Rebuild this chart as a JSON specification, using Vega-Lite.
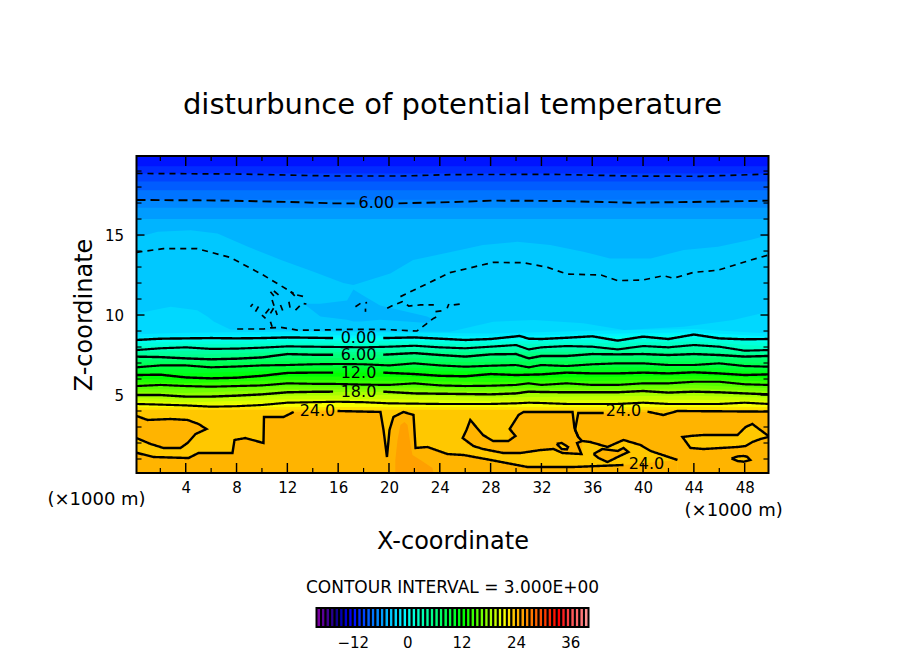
{
  "$schema": "https://vega.github.io/schema/vega-lite/v6.json",
  "background": "white",
  "padding": {"left": 46.5, "top": 91, "right": 0, "bottom": 0},
  "bounds": "flush",
  "center": true,
  "spacing": 135,
  "config": {
    "font": "DejaVu Sans",
    "view": {"stroke": null},
    "title": {"fontWeight": "normal", "color": "black"},
    "axis": {"labelColor": "black", "titleColor": "black", "titleFontWeight": "normal", "grid": false, "ticks": false, "domain": false, "labelFontSize": 15}
  },
  "datasets": {
    "bands": [
      {"level":23,"x":0.125,"z":0.125},{"level":23,"x":49.875,"z":0.125},
      {"level":22,"x":0.125,"z":4.08},{"level":22,"x":49.875,"z":4.08},
      {"level":21,"x":0.125,"z":4.25},{"level":21,"x":49.875,"z":4.25},
      {"level":20,"x":0.125,"z":4.44},{"level":20,"x":4,"z":4.35},{"level":20,"x":12,"z":4.52},{"level":20,"x":20,"z":4.48},{"level":20,"x":28,"z":4.44},{"level":20,"x":36,"z":4.44},{"level":20,"x":44,"z":4.44},{"level":20,"x":49.875,"z":4.44},
      {"level":19,"x":0.125,"z":4.63},{"level":19,"x":4,"z":4.53},{"level":19,"x":12,"z":4.74},{"level":19,"x":20,"z":4.74},{"level":19,"x":28,"z":4.64},{"level":19,"x":36,"z":4.69},{"level":19,"x":44,"z":4.7},{"level":19,"x":49.875,"z":4.64},
      {"level":18,"x":0.125,"z":4.81},{"level":18,"x":4,"z":4.72},{"level":18,"x":12,"z":4.95},{"level":18,"x":20,"z":5.0},{"level":18,"x":28,"z":4.84},{"level":18,"x":36,"z":4.93},{"level":18,"x":44,"z":4.95},{"level":18,"x":49.875,"z":4.84},
      {"level":17,"x":0.125,"z":5.0},{"level":17,"x":4,"z":4.9},{"level":17,"x":12,"z":5.17},{"level":17,"x":20,"z":5.21},{"level":17,"x":28,"z":5.04},{"level":17,"x":36,"z":5.17},{"level":17,"x":44,"z":5.21},{"level":17,"x":49.875,"z":5.04},
      {"level":16,"x":0.125,"z":5.19},{"level":16,"x":4,"z":5.12},{"level":16,"x":12,"z":5.36},{"level":16,"x":20,"z":5.35},{"level":16,"x":28,"z":5.22},{"level":16,"x":36,"z":5.32},{"level":16,"x":44,"z":5.42},{"level":16,"x":49.875,"z":5.24},
      {"level":15,"x":0.125,"z":5.37},{"level":15,"x":4,"z":5.34},{"level":15,"x":12,"z":5.54},{"level":15,"x":20,"z":5.49},{"level":15,"x":28,"z":5.4},{"level":15,"x":36,"z":5.48},{"level":15,"x":44,"z":5.62},{"level":15,"x":49.875,"z":5.43},
      {"level":14,"x":0.125,"z":5.56},{"level":14,"x":4,"z":5.56},{"level":14,"x":12,"z":5.73},{"level":14,"x":20,"z":5.63},{"level":14,"x":28,"z":5.58},{"level":14,"x":36,"z":5.63},{"level":14,"x":44,"z":5.83},{"level":14,"x":49.875,"z":5.63},
      {"level":13,"x":0.125,"z":5.79},{"level":13,"x":4,"z":5.74},{"level":13,"x":12,"z":5.95},{"level":13,"x":20,"z":5.89},{"level":13,"x":28,"z":5.82},{"level":13,"x":36,"z":5.87},{"level":13,"x":44,"z":6.02},{"level":13,"x":49.875,"z":5.85},
      {"level":12,"x":0.125,"z":6.02},{"level":12,"x":4,"z":5.92},{"level":12,"x":12,"z":6.16},{"level":12,"x":20,"z":6.14},{"level":12,"x":28,"z":6.07},{"level":12,"x":36,"z":6.11},{"level":12,"x":44,"z":6.22},{"level":12,"x":49.875,"z":6.07},
      {"level":11,"x":0.125,"z":6.25},{"level":11,"x":4,"z":6.1},{"level":11,"x":12,"z":6.38},{"level":11,"x":20,"z":6.4},{"level":11,"x":28,"z":6.31},{"level":11,"x":36,"z":6.35},{"level":11,"x":44,"z":6.42},{"level":11,"x":49.875,"z":6.29},
      {"level":10,"x":0.125,"z":6.41},{"level":10,"x":4,"z":6.35},{"level":10,"x":12,"z":6.55},{"level":10,"x":20,"z":6.55},{"level":10,"x":28,"z":6.48},{"level":10,"x":36,"z":6.54},{"level":10,"x":44,"z":6.57},{"level":10,"x":49.875,"z":6.45},
      {"level":9,"x":0.125,"z":6.57},{"level":9,"x":4,"z":6.6},{"level":9,"x":12,"z":6.71},{"level":9,"x":20,"z":6.7},{"level":9,"x":28,"z":6.65},{"level":9,"x":36,"z":6.73},{"level":9,"x":44,"z":6.72},{"level":9,"x":49.875,"z":6.6},
      {"level":8,"x":0.125,"z":6.73},{"level":8,"x":4,"z":6.85},{"level":8,"x":12,"z":6.88},{"level":8,"x":20,"z":6.85},{"level":8,"x":28,"z":6.83},{"level":8,"x":36,"z":6.92},{"level":8,"x":44,"z":6.88},{"level":8,"x":49.875,"z":6.77},
      {"level":7,"x":0.125,"z":6.95},{"level":7,"x":4,"z":7.0},{"level":7,"x":12,"z":7.11},{"level":7,"x":20,"z":7.07},{"level":7,"x":28,"z":7.06},{"level":7,"x":36,"z":7.13},{"level":7,"x":44,"z":7.1},{"level":7,"x":49.875,"z":7.0},
      {"level":6,"x":0.125,"z":7.18},{"level":6,"x":4,"z":7.14},{"level":6,"x":12,"z":7.33},{"level":6,"x":20,"z":7.3},{"level":6,"x":28,"z":7.3},{"level":6,"x":36,"z":7.35},{"level":6,"x":44,"z":7.33},{"level":6,"x":49.875,"z":7.22},
      {"level":5,"x":0.125,"z":7.4},{"level":5,"x":4,"z":7.29},{"level":5,"x":12,"z":7.56},{"level":5,"x":20,"z":7.52},{"level":5,"x":28,"z":7.54},{"level":5,"x":36,"z":7.56},{"level":5,"x":44,"z":7.56},{"level":5,"x":49.875,"z":7.44},
      {"level":4,"x":0.125,"z":7.54},{"level":4,"x":4,"z":7.52},{"level":4,"x":12,"z":7.71},{"level":4,"x":20,"z":7.69},{"level":4,"x":28,"z":7.71},{"level":4,"x":36,"z":7.71},{"level":4,"x":44,"z":7.71},{"level":4,"x":49.875,"z":7.56},
      {"level":3,"x":0.125,"z":7.67},{"level":3,"x":4,"z":7.75},{"level":3,"x":12,"z":7.87},{"level":3,"x":20,"z":7.85},{"level":3,"x":28,"z":7.85},{"level":3,"x":36,"z":7.87},{"level":3,"x":44,"z":7.97},{"level":3,"x":49.875,"z":7.67},
      {"level":2,"x":0.125,"z":7.81},{"level":2,"x":4,"z":7.98},{"level":2,"x":12,"z":8.04},{"level":2,"x":20,"z":8.02},{"level":2,"x":28,"z":8.02},{"level":2,"x":36,"z":8.02},{"level":2,"x":44,"z":8.12},{"level":2,"x":49.875,"z":7.81},
      {"level":1,"x":0.125,"z":8.02},{"level":1,"x":4,"z":8.17},{"level":1,"x":12,"z":8.22},{"level":1,"x":20,"z":8.2},{"level":1,"x":28,"z":8.18},{"level":1,"x":36,"z":8.23},{"level":1,"x":44,"z":8.34},{"level":1,"x":49.875,"z":8.04},
      {"level":0,"x":0.125,"z":8.23},{"level":0,"x":4,"z":8.35},{"level":0,"x":12,"z":8.42},{"level":0,"x":20,"z":8.38},{"level":0,"x":28,"z":8.33},{"level":0,"x":36,"z":8.45},{"level":0,"x":44,"z":8.56},{"level":0,"x":49.875,"z":8.27},
      {"level":-1,"x":0.125,"z":8.44},{"level":-1,"x":4,"z":8.54},{"level":-1,"x":12,"z":8.6},{"level":-1,"x":20,"z":8.56},{"level":-1,"x":28,"z":8.5},{"level":-1,"x":36,"z":8.67},{"level":-1,"x":44,"z":8.78},{"level":-1,"x":49.875,"z":8.5},
      {"level":-2,"x":0.125,"z":8.6},{"level":-2,"x":4,"z":8.69},{"level":-2,"x":12,"z":8.75},{"level":-2,"x":20,"z":8.71},{"level":-2,"x":28,"z":8.65},{"level":-2,"x":36,"z":8.82},{"level":-2,"x":44,"z":8.93},{"level":-2,"x":49.875,"z":8.65},
      {"level":-3,"x":0.125,"z":8.8},{"level":-3,"x":4,"z":8.89},{"level":-3,"x":12,"z":8.95},{"level":-3,"x":20,"z":8.91},{"level":-3,"x":28,"z":8.85},{"level":-3,"x":36,"z":9.02},{"level":-3,"x":44,"z":9.13},{"level":-3,"x":49.875,"z":8.85},
      {"level":-4,"x":0.125,"z":10.1},{"level":-4,"x":2.8,"z":10.52},{"level":-4,"x":4.9,"z":10.3},{"level":-4,"x":5.7,"z":9.9},{"level":-4,"x":6.2,"z":9.6},{"level":-4,"x":7.5,"z":9.1},{"level":-4,"x":15.5,"z":9.0},{"level":-4,"x":24.8,"z":8.96},{"level":-4,"x":28.2,"z":9.58},{"level":-4,"x":31.4,"z":9.69},{"level":-4,"x":35.3,"z":9.48},{"level":-4,"x":38.5,"z":9.06},{"level":-4,"x":43.2,"z":9.27},{"level":-4,"x":47.1,"z":9.69},{"level":-4,"x":49.875,"z":10.2},
      {"level":-5,"x":0.125,"z":14.85},{"level":-5,"x":1.8,"z":15.2},{"level":-5,"x":4.4,"z":15.3},{"level":-5,"x":6.5,"z":15.1},{"level":-5,"x":8.9,"z":14.27},{"level":-5,"x":11.5,"z":13.44},{"level":-5,"x":14.06,"z":12.7},{"level":-5,"x":16.4,"z":12.0},{"level":-5,"x":17.2,"z":11.88},{"level":-5,"x":20.1,"z":12.6},{"level":-5,"x":21.9,"z":13.44},{"level":-5,"x":25.6,"z":14.06},{"level":-5,"x":27.4,"z":14.37},{"level":-5,"x":30.1,"z":14.58},{"level":-5,"x":32.7,"z":14.37},{"level":-5,"x":35.3,"z":13.96},{"level":-5,"x":37.4,"z":13.54},{"level":-5,"x":40.6,"z":13.54},{"level":-5,"x":43.2,"z":14.06},{"level":-5,"x":45.9,"z":14.27},{"level":-5,"x":48.5,"z":14.7},{"level":-5,"x":49.875,"z":15.0},
      {"level":-6,"x":0.125,"z":16.0},{"level":-6,"x":49.875,"z":16.0},
      {"level":-7,"x":0.125,"z":16.7},{"level":-7,"x":49.875,"z":16.7},
      {"level":-8,"x":0.125,"z":17.2},{"level":-8,"x":49.875,"z":17.2},
      {"level":-9,"x":0.125,"z":17.8},{"level":-9,"x":49.875,"z":17.8},
      {"level":-10,"x":0.125,"z":18.35},{"level":-10,"x":49.875,"z":18.35},
      {"level":-11,"x":0.125,"z":18.85},{"level":-11,"x":49.875,"z":18.85},
      {"level":-12,"x":0.125,"z":19.3},{"level":-12,"x":49.875,"z":19.3}
    ],
    "patches": [
      {"id":"ground","level":24,"x":0.125,"z":0.125,"z2":1.39},{"id":"ground","level":24,"x":1.46,"z":0.125,"z2":1.125},{"id":"ground","level":24,"x":4.22,"z":0.125,"z2":1.06},{"id":"ground","level":24,"x":5.0,"z":0.125,"z2":1.375},{"id":"ground","level":24,"x":7.68,"z":0.125,"z2":1.375},{"id":"ground","level":24,"x":7.84,"z":0.125,"z2":2.19},{"id":"ground","level":24,"x":8.7,"z":0.125,"z2":2.31},{"id":"ground","level":24,"x":10.12,"z":0.125,"z2":2.0},{"id":"ground","level":24,"x":10.16,"z":0.125,"z2":3.625},{"id":"ground","level":24,"x":11.7,"z":0.125,"z2":3.625},{"id":"ground","level":24,"x":12.5,"z":0.125,"z2":3.94},{"id":"ground","level":24,"x":15.95,"z":0.125,"z2":4.0},{"id":"ground","level":24,"x":19.33,"z":0.125,"z2":3.94},{"id":"ground","level":24,"x":19.57,"z":0.125,"z2":2.81},{"id":"ground","level":24,"x":19.84,"z":0.125,"z2":1.125},{"id":"ground","level":24,"x":20.04,"z":0.125,"z2":2.81},{"id":"ground","level":24,"x":20.35,"z":0.125,"z2":3.625},{"id":"ground","level":24,"x":21.14,"z":0.125,"z2":3.94},{"id":"ground","level":24,"x":21.93,"z":0.125,"z2":3.75},{"id":"ground","level":24,"x":22.09,"z":0.125,"z2":1.69},{"id":"ground","level":24,"x":23.03,"z":0.125,"z2":1.75},{"id":"ground","level":24,"x":24.6,"z":0.125,"z2":1.31},{"id":"ground","level":24,"x":25.87,"z":0.125,"z2":1.25},{"id":"ground","level":24,"x":28,"z":0.125,"z2":0.94},{"id":"ground","level":24,"x":30.9,"z":0.125,"z2":0.5},{"id":"ground","level":24,"x":34.5,"z":0.125,"z2":0.5},{"id":"ground","level":24,"x":38.46,"z":0.125,"z2":0.625},{"id":"ground","level":24,"x":42.71,"z":0.125,"z2":0.94},
      {"id":"upper","level":24,"x":25.79,"z":2.31,"z2":2.31},{"id":"upper","level":24,"x":26.1,"z":1.94,"z2":2.81},{"id":"upper","level":24,"x":26.38,"z":1.81,"z2":3.44},{"id":"upper","level":24,"x":27.44,"z":1.625,"z2":2.5},{"id":"upper","level":24,"x":28.23,"z":1.375,"z2":2.125},{"id":"upper","level":24,"x":29.4,"z":1.375,"z2":2.125},{"id":"upper","level":24,"x":29.56,"z":1.375,"z2":2.875},{"id":"upper","level":24,"x":30.2,"z":1.375,"z2":3.75},{"id":"upper","level":24,"x":30.6,"z":1.4,"z2":3.94},{"id":"upper","level":24,"x":31.93,"z":1.56,"z2":3.94},{"id":"upper","level":24,"x":32.95,"z":1.625,"z2":3.94},{"id":"upper","level":24,"x":33.66,"z":1.375,"z2":3.94},{"id":"upper","level":24,"x":34.45,"z":1.33,"z2":3.94},{"id":"upper","level":24,"x":34.6,"z":1.32,"z2":2.94},{"id":"upper","level":24,"x":34.84,"z":1.31,"z2":2.4},{"id":"upper","level":24,"x":34.92,"z":1.31,"z2":3.875},{"id":"upper","level":24,"x":35.15,"z":1.31,"z2":3.875},{"id":"upper","level":24,"x":35.23,"z":2.125,"z2":3.875},{"id":"upper","level":24,"x":35.86,"z":2.06,"z2":3.875},{"id":"upper","level":24,"x":37.2,"z":1.75,"z2":3.875},{"id":"upper","level":24,"x":38.46,"z":2.19,"z2":3.9},{"id":"upper","level":24,"x":39.8,"z":1.875,"z2":3.96},{"id":"upper","level":24,"x":40.6,"z":1.5,"z2":3.9},{"id":"upper","level":24,"x":41.6,"z":1.19,"z2":3.75},{"id":"upper","level":24,"x":42.71,"z":0.94,"z2":4.0},{"id":"upper","level":24,"x":42.75,"z":0.125,"z2":4.0},{"id":"upper","level":24,"x":49.875,"z":0.125,"z2":3.96},
      {"id":"ellipse","level":24,"x":0.125,"z":2.31,"z2":3.69},{"id":"ellipse","level":24,"x":1.23,"z":1.94,"z2":3.42},{"id":"ellipse","level":24,"x":2.25,"z":1.69,"z2":3.48},{"id":"ellipse","level":24,"x":3.59,"z":1.69,"z2":3.47},{"id":"ellipse","level":24,"x":4.14,"z":2.0,"z2":3.44},{"id":"ellipse","level":24,"x":4.77,"z":2.56,"z2":3.27},{"id":"ellipse","level":24,"x":5.0,"z":2.7,"z2":3.19},{"id":"ellipse","level":24,"x":5.64,"z":2.875,"z2":2.875},
      {"id":"lens","level":24,"x":36.1,"z":1.31,"z2":1.31},{"id":"lens","level":24,"x":36.5,"z":1.06,"z2":1.44},{"id":"lens","level":24,"x":36.8,"z":0.9,"z2":1.625},{"id":"lens","level":24,"x":37.2,"z":0.81,"z2":1.53},{"id":"lens","level":24,"x":38,"z":1.125,"z2":1.5},{"id":"lens","level":24,"x":38.46,"z":1.31,"z2":1.69},{"id":"lens","level":24,"x":38.85,"z":1.44,"z2":1.44},
      {"id":"dark","level":25,"x":20.5,"z":0.125,"z2":0.94},{"id":"dark","level":25,"x":20.67,"z":0.125,"z2":2.19},{"id":"dark","level":25,"x":20.9,"z":0.125,"z2":3.125},{"id":"dark","level":25,"x":21.22,"z":0.125,"z2":3.31},{"id":"dark","level":25,"x":21.46,"z":0.125,"z2":3.125},{"id":"dark","level":25,"x":21.7,"z":0.125,"z2":1.875},{"id":"dark","level":25,"x":21.85,"z":0.125,"z2":1.25},{"id":"dark","level":25,"x":22.48,"z":0.125,"z2":0.94},{"id":"dark","level":25,"x":23.42,"z":0.125,"z2":0.44},{"id":"dark","level":25,"x":23.5,"z":0.125,"z2":0.125},
      {"id":"circle","level":23,"x":33.2,"z":1.95,"z2":1.95},{"id":"circle","level":23,"x":33.6,"z":1.62,"z2":2.0},{"id":"circle","level":23,"x":34.0,"z":1.6,"z2":1.8},{"id":"circle","level":23,"x":34.1,"z":1.75,"z2":1.75},
      {"id":"island","level":23,"x":43.1,"z":2.375,"z2":2.375},{"id":"island","level":23,"x":43.73,"z":1.69,"z2":2.44},{"id":"island","level":23,"x":44.76,"z":1.625,"z2":2.5},{"id":"island","level":23,"x":47.44,"z":1.75,"z2":2.5},{"id":"island","level":23,"x":48.07,"z":1.81,"z2":3.0},{"id":"island","level":23,"x":48.6,"z":2.06,"z2":3.19},{"id":"island","level":23,"x":49.24,"z":2.25,"z2":2.81},{"id":"island","level":23,"x":49.875,"z":2.375,"z2":2.44},
      {"id":"small","level":23,"x":46.96,"z":1.03,"z2":1.03},{"id":"small","level":23,"x":47.44,"z":0.875,"z2":1.16},{"id":"small","level":23,"x":47.91,"z":0.83,"z2":1.19},{"id":"small","level":23,"x":48.2,"z":0.875,"z2":1.14},{"id":"small","level":23,"x":48.44,"z":0.94,"z2":0.94},
      {"id":"cool","level":-5,"x":13.3,"z":10.7,"z2":10.7},{"id":"cool","level":-5,"x":14.6,"z":9.9,"z2":10.7},{"id":"cool","level":-5,"x":16.7,"z":9.7,"z2":10.9},{"id":"cool","level":-5,"x":17.2,"z":9.6,"z2":11.6},{"id":"cool","level":-5,"x":17.8,"z":9.6,"z2":11.3},{"id":"cool","level":-5,"x":19.3,"z":9.7,"z2":10.6},{"id":"cool","level":-5,"x":21.4,"z":9.6,"z2":10.2},{"id":"cool","level":-5,"x":23,"z":9.5,"z2":9.9},{"id":"cool","level":-5,"x":23.5,"z":9.7,"z2":9.7}
    ],
    "contours": [
      {"c":"c0a","style":"thick","x":0.125,"z":8.44},{"c":"c0a","style":"thick","x":2,"z":8.52},{"c":"c0a","style":"thick","x":4,"z":8.54},{"c":"c0a","style":"thick","x":6,"z":8.56},{"c":"c0a","style":"thick","x":8,"z":8.54},{"c":"c0a","style":"thick","x":10,"z":8.56},{"c":"c0a","style":"thick","x":12,"z":8.6},{"c":"c0a","style":"thick","x":14,"z":8.58},{"c":"c0a","style":"thick","x":15.6,"z":8.56},
      {"c":"c0b","style":"thick","x":19.55,"z":8.56},{"c":"c0b","style":"thick","x":22,"z":8.6},{"c":"c0b","style":"thick","x":24,"z":8.52},{"c":"c0b","style":"thick","x":26,"z":8.44},{"c":"c0b","style":"thick","x":28,"z":8.5},{"c":"c0b","style":"thick","x":30.3,"z":8.69},{"c":"c0b","style":"thick","x":31,"z":8.52},{"c":"c0b","style":"thick","x":32,"z":8.5},{"c":"c0b","style":"thick","x":34,"z":8.58},{"c":"c0b","style":"thick","x":36,"z":8.67},{"c":"c0b","style":"thick","x":38,"z":8.4},{"c":"c0b","style":"thick","x":40,"z":8.65},{"c":"c0b","style":"thick","x":42,"z":8.5},{"c":"c0b","style":"thick","x":44,"z":8.78},{"c":"c0b","style":"thick","x":46,"z":8.54},{"c":"c0b","style":"thick","x":48,"z":8.48},{"c":"c0b","style":"thick","x":49.875,"z":8.5},
      {"c":"c3","style":"thin","x":0.125,"z":7.81},{"c":"c3","style":"thin","x":2,"z":7.92},{"c":"c3","style":"thin","x":4,"z":7.98},{"c":"c3","style":"thin","x":6,"z":7.88},{"c":"c3","style":"thin","x":8,"z":7.9},{"c":"c3","style":"thin","x":10,"z":7.96},{"c":"c3","style":"thin","x":12,"z":8.04},{"c":"c3","style":"thin","x":14,"z":8.02},{"c":"c3","style":"thin","x":16,"z":8.0},{"c":"c3","style":"thin","x":18,"z":7.98},{"c":"c3","style":"thin","x":20,"z":8.02},{"c":"c3","style":"thin","x":22,"z":8.08},{"c":"c3","style":"thin","x":24,"z":7.98},{"c":"c3","style":"thin","x":26,"z":7.92},{"c":"c3","style":"thin","x":28,"z":8.02},{"c":"c3","style":"thin","x":30,"z":8.125},{"c":"c3","style":"thin","x":31,"z":7.85},{"c":"c3","style":"thin","x":32,"z":7.98},{"c":"c3","style":"thin","x":34,"z":8.06},{"c":"c3","style":"thin","x":36,"z":8.02},{"c":"c3","style":"thin","x":38,"z":7.85},{"c":"c3","style":"thin","x":40,"z":8.06},{"c":"c3","style":"thin","x":42,"z":7.98},{"c":"c3","style":"thin","x":44,"z":8.125},{"c":"c3","style":"thin","x":46,"z":8.02},{"c":"c3","style":"thin","x":48,"z":7.77},{"c":"c3","style":"thin","x":49.875,"z":7.81},
      {"c":"c6a","style":"thick","x":0.125,"z":7.4},{"c":"c6a","style":"thick","x":2,"z":7.37},{"c":"c6a","style":"thick","x":4,"z":7.29},{"c":"c6a","style":"thick","x":6,"z":7.23},{"c":"c6a","style":"thick","x":8,"z":7.27},{"c":"c6a","style":"thick","x":10,"z":7.35},{"c":"c6a","style":"thick","x":12,"z":7.56},{"c":"c6a","style":"thick","x":14,"z":7.52},{"c":"c6a","style":"thick","x":15.6,"z":7.52},
      {"c":"c6b","style":"thick","x":19.55,"z":7.52},{"c":"c6b","style":"thick","x":22,"z":7.62},{"c":"c6b","style":"thick","x":24,"z":7.5},{"c":"c6b","style":"thick","x":26,"z":7.4},{"c":"c6b","style":"thick","x":28,"z":7.54},{"c":"c6b","style":"thick","x":30,"z":7.56},{"c":"c6b","style":"thick","x":31,"z":7.29},{"c":"c6b","style":"thick","x":32,"z":7.44},{"c":"c6b","style":"thick","x":34,"z":7.44},{"c":"c6b","style":"thick","x":36,"z":7.56},{"c":"c6b","style":"thick","x":38,"z":7.54},{"c":"c6b","style":"thick","x":40,"z":7.56},{"c":"c6b","style":"thick","x":42,"z":7.5},{"c":"c6b","style":"thick","x":44,"z":7.56},{"c":"c6b","style":"thick","x":46,"z":7.5},{"c":"c6b","style":"thick","x":48,"z":7.4},{"c":"c6b","style":"thick","x":49.875,"z":7.44},
      {"c":"c9","style":"thin","x":0.125,"z":6.73},{"c":"c9","style":"thin","x":2,"z":6.85},{"c":"c9","style":"thin","x":4,"z":6.85},{"c":"c9","style":"thin","x":6,"z":6.73},{"c":"c9","style":"thin","x":8,"z":6.78},{"c":"c9","style":"thin","x":10,"z":6.85},{"c":"c9","style":"thin","x":12,"z":6.875},{"c":"c9","style":"thin","x":14,"z":6.92},{"c":"c9","style":"thin","x":16,"z":6.94},{"c":"c9","style":"thin","x":18,"z":6.92},{"c":"c9","style":"thin","x":20,"z":6.85},{"c":"c9","style":"thin","x":22,"z":6.98},{"c":"c9","style":"thin","x":24,"z":6.85},{"c":"c9","style":"thin","x":26,"z":6.77},{"c":"c9","style":"thin","x":28,"z":6.83},{"c":"c9","style":"thin","x":30,"z":6.875},{"c":"c9","style":"thin","x":31,"z":6.73},{"c":"c9","style":"thin","x":32,"z":6.875},{"c":"c9","style":"thin","x":34,"z":6.81},{"c":"c9","style":"thin","x":36,"z":6.92},{"c":"c9","style":"thin","x":38,"z":6.98},{"c":"c9","style":"thin","x":40,"z":6.98},{"c":"c9","style":"thin","x":42,"z":6.875},{"c":"c9","style":"thin","x":44,"z":6.875},{"c":"c9","style":"thin","x":46,"z":6.98},{"c":"c9","style":"thin","x":48,"z":6.81},{"c":"c9","style":"thin","x":49.875,"z":6.77},
      {"c":"c12a","style":"thick","x":0.125,"z":6.25},{"c":"c12a","style":"thick","x":2,"z":6.27},{"c":"c12a","style":"thick","x":4,"z":6.1},{"c":"c12a","style":"thick","x":6,"z":6.04},{"c":"c12a","style":"thick","x":8,"z":6.08},{"c":"c12a","style":"thick","x":10,"z":6.2},{"c":"c12a","style":"thick","x":12,"z":6.38},{"c":"c12a","style":"thick","x":14,"z":6.4},{"c":"c12a","style":"thick","x":15.6,"z":6.4},
      {"c":"c12b","style":"thick","x":19.55,"z":6.4},{"c":"c12b","style":"thick","x":22,"z":6.31},{"c":"c12b","style":"thick","x":24,"z":6.2},{"c":"c12b","style":"thick","x":26,"z":6.17},{"c":"c12b","style":"thick","x":28,"z":6.31},{"c":"c12b","style":"thick","x":30,"z":6.25},{"c":"c12b","style":"thick","x":32,"z":6.29},{"c":"c12b","style":"thick","x":34,"z":6.4},{"c":"c12b","style":"thick","x":36,"z":6.35},{"c":"c12b","style":"thick","x":38,"z":6.35},{"c":"c12b","style":"thick","x":40,"z":6.4},{"c":"c12b","style":"thick","x":42,"z":6.35},{"c":"c12b","style":"thick","x":44,"z":6.42},{"c":"c12b","style":"thick","x":46,"z":6.35},{"c":"c12b","style":"thick","x":48,"z":6.25},{"c":"c12b","style":"thick","x":49.875,"z":6.29},
      {"c":"c15","style":"thin","x":0.125,"z":5.56},{"c":"c15","style":"thin","x":2,"z":5.63},{"c":"c15","style":"thin","x":4,"z":5.56},{"c":"c15","style":"thin","x":6,"z":5.52},{"c":"c15","style":"thin","x":8,"z":5.56},{"c":"c15","style":"thin","x":10,"z":5.6},{"c":"c15","style":"thin","x":12,"z":5.73},{"c":"c15","style":"thin","x":14,"z":5.7},{"c":"c15","style":"thin","x":16,"z":5.69},{"c":"c15","style":"thin","x":18,"z":5.65},{"c":"c15","style":"thin","x":20,"z":5.63},{"c":"c15","style":"thin","x":22,"z":5.73},{"c":"c15","style":"thin","x":24,"z":5.6},{"c":"c15","style":"thin","x":26,"z":5.56},{"c":"c15","style":"thin","x":28,"z":5.58},{"c":"c15","style":"thin","x":30,"z":5.63},{"c":"c15","style":"thin","x":31,"z":5.73},{"c":"c15","style":"thin","x":32,"z":5.63},{"c":"c15","style":"thin","x":34,"z":5.73},{"c":"c15","style":"thin","x":36,"z":5.63},{"c":"c15","style":"thin","x":38,"z":5.63},{"c":"c15","style":"thin","x":40,"z":5.73},{"c":"c15","style":"thin","x":42,"z":5.73},{"c":"c15","style":"thin","x":44,"z":5.83},{"c":"c15","style":"thin","x":46,"z":5.83},{"c":"c15","style":"thin","x":48,"z":5.67},{"c":"c15","style":"thin","x":49.875,"z":5.63},
      {"c":"c18a","style":"thick","x":0.125,"z":5.0},{"c":"c18a","style":"thick","x":2,"z":5.0},{"c":"c18a","style":"thick","x":4,"z":4.9},{"c":"c18a","style":"thick","x":6,"z":4.9},{"c":"c18a","style":"thick","x":8,"z":4.96},{"c":"c18a","style":"thick","x":10,"z":5.04},{"c":"c18a","style":"thick","x":12,"z":5.17},{"c":"c18a","style":"thick","x":14,"z":5.2},{"c":"c18a","style":"thick","x":15.6,"z":5.21},
      {"c":"c18b","style":"thick","x":19.55,"z":5.21},{"c":"c18b","style":"thick","x":22,"z":5.1},{"c":"c18b","style":"thick","x":24,"z":5.08},{"c":"c18b","style":"thick","x":26,"z":5.06},{"c":"c18b","style":"thick","x":28,"z":5.04},{"c":"c18b","style":"thick","x":30,"z":5.1},{"c":"c18b","style":"thick","x":31,"z":5.21},{"c":"c18b","style":"thick","x":32,"z":5.19},{"c":"c18b","style":"thick","x":34,"z":5.17},{"c":"c18b","style":"thick","x":36,"z":5.17},{"c":"c18b","style":"thick","x":38,"z":5.17},{"c":"c18b","style":"thick","x":40,"z":5.25},{"c":"c18b","style":"thick","x":42,"z":5.15},{"c":"c18b","style":"thick","x":44,"z":5.21},{"c":"c18b","style":"thick","x":46,"z":5.17},{"c":"c18b","style":"thick","x":48,"z":5.1},{"c":"c18b","style":"thick","x":49.875,"z":5.04},
      {"c":"c21","style":"thin","x":0.125,"z":4.44},{"c":"c21","style":"thin","x":2,"z":4.4},{"c":"c21","style":"thin","x":4,"z":4.35},{"c":"c21","style":"thin","x":6,"z":4.27},{"c":"c21","style":"thin","x":8,"z":4.3},{"c":"c21","style":"thin","x":10,"z":4.375},{"c":"c21","style":"thin","x":12,"z":4.52},{"c":"c21","style":"thin","x":14,"z":4.55},{"c":"c21","style":"thin","x":16,"z":4.58},{"c":"c21","style":"thin","x":18,"z":4.55},{"c":"c21","style":"thin","x":20,"z":4.48},{"c":"c21","style":"thin","x":22,"z":4.46},{"c":"c21","style":"thin","x":24,"z":4.44},{"c":"c21","style":"thin","x":28,"z":4.44},{"c":"c21","style":"thin","x":30,"z":4.48},{"c":"c21","style":"thin","x":31,"z":4.52},{"c":"c21","style":"thin","x":32,"z":4.5},{"c":"c21","style":"thin","x":34,"z":4.44},{"c":"c21","style":"thin","x":38,"z":4.44},{"c":"c21","style":"thin","x":40,"z":4.52},{"c":"c21","style":"thin","x":42,"z":4.44},{"c":"c21","style":"thin","x":46,"z":4.44},{"c":"c21","style":"thin","x":48,"z":4.52},{"c":"c21","style":"thin","x":49.875,"z":4.44},
      {"c":"b1","style":"thick","x":0.125,"z":1.39},{"c":"b1","style":"thick","x":1.46,"z":1.125},{"c":"b1","style":"thick","x":4.22,"z":1.06},{"c":"b1","style":"thick","x":5.0,"z":1.375},{"c":"b1","style":"thick","x":7.68,"z":1.375},{"c":"b1","style":"thick","x":7.84,"z":2.19},{"c":"b1","style":"thick","x":8.7,"z":2.31},{"c":"b1","style":"thick","x":10.12,"z":2.0},{"c":"b1","style":"thick","x":10.16,"z":3.625},{"c":"b1","style":"thick","x":11.7,"z":3.625},{"c":"b1","style":"thick","x":12.5,"z":3.94},
      {"c":"b2","style":"thick","x":15.95,"z":4.0},{"c":"b2","style":"thick","x":19.33,"z":3.94},{"c":"b2","style":"thick","x":19.57,"z":2.81},{"c":"b2","style":"thick","x":19.84,"z":1.125},{"c":"b2","style":"thick","x":20.04,"z":2.81},{"c":"b2","style":"thick","x":20.35,"z":3.625},{"c":"b2","style":"thick","x":21.14,"z":3.94},{"c":"b2","style":"thick","x":21.93,"z":3.75},{"c":"b2","style":"thick","x":22.09,"z":1.69},{"c":"b2","style":"thick","x":23.03,"z":1.75},{"c":"b2","style":"thick","x":24.6,"z":1.31},{"c":"b2","style":"thick","x":25.87,"z":1.25},{"c":"b2","style":"thick","x":28,"z":0.94},{"c":"b2","style":"thick","x":30.9,"z":0.5},{"c":"b2","style":"thick","x":34.5,"z":0.5},{"c":"b2","style":"thick","x":38.46,"z":0.625},
      {"c":"b3","style":"thick","x":41.76,"z":1.19},{"c":"b3","style":"thick","x":42.71,"z":0.94},{"c":"b3","style":"thick","x":40.6,"z":1.5},{"c":"b3","style":"thick","x":39.8,"z":1.875},{"c":"b3","style":"thick","x":38.46,"z":2.19},{"c":"b3","style":"thick","x":37.2,"z":1.75},{"c":"b3","style":"thick","x":35.86,"z":2.06},{"c":"b3","style":"thick","x":35.2,"z":2.125},{"c":"b3","style":"thick","x":34.8,"z":2.0},{"c":"b3","style":"thick","x":35.15,"z":1.31},{"c":"b3","style":"thick","x":33.66,"z":1.375},{"c":"b3","style":"thick","x":32.95,"z":1.625},{"c":"b3","style":"thick","x":31.93,"z":1.56},{"c":"b3","style":"thick","x":30.35,"z":1.375},{"c":"b3","style":"thick","x":29,"z":1.375},{"c":"b3","style":"thick","x":27.4,"z":1.625},{"c":"b3","style":"thick","x":26.65,"z":1.81},{"c":"b3","style":"thick","x":25.8,"z":2.31},{"c":"b3","style":"thick","x":26.1,"z":2.81},{"c":"b3","style":"thick","x":26.4,"z":3.44},{"c":"b3","style":"thick","x":27.4,"z":2.5},{"c":"b3","style":"thick","x":28.2,"z":2.125},{"c":"b3","style":"thick","x":29.4,"z":2.125},{"c":"b3","style":"thick","x":29.96,"z":2.44},{"c":"b3","style":"thick","x":29.5,"z":2.875},{"c":"b3","style":"thick","x":30.2,"z":3.75},{"c":"b3","style":"thick","x":30.6,"z":3.94},{"c":"b3","style":"thick","x":34.45,"z":3.94},{"c":"b3","style":"thick","x":34.6,"z":2.94},{"c":"b3","style":"thick","x":34.9,"z":2.375},{"c":"b3","style":"thick","x":35.2,"z":2.125},
      {"c":"b4","style":"thick","x":34.9,"z":2.375},{"c":"b4","style":"thick","x":34.65,"z":2.81},{"c":"b4","style":"thick","x":34.9,"z":3.875},{"c":"b4","style":"thick","x":36.9,"z":3.875},
      {"c":"b5","style":"thick","x":40.35,"z":3.96},{"c":"b5","style":"thick","x":41.6,"z":3.75},{"c":"b5","style":"thick","x":42.7,"z":4.0},{"c":"b5","style":"thick","x":49.875,"z":3.96},
      {"c":"e","style":"thick","x":0.125,"z":3.69},{"c":"e","style":"thick","x":1.0,"z":3.44},{"c":"e","style":"thick","x":2.8,"z":3.5},{"c":"e","style":"thick","x":4.14,"z":3.44},{"c":"e","style":"thick","x":5.0,"z":3.19},{"c":"e","style":"thick","x":5.64,"z":2.875},{"c":"e","style":"thick","x":4.77,"z":2.56},{"c":"e","style":"thick","x":4.14,"z":2.0},{"c":"e","style":"thick","x":3.59,"z":1.69},{"c":"e","style":"thick","x":2.25,"z":1.69},{"c":"e","style":"thick","x":1.23,"z":1.94},{"c":"e","style":"thick","x":0.125,"z":2.31},
      {"c":"lens","style":"thick","x":36.1,"z":1.31},{"c":"lens","style":"thick","x":36.8,"z":1.625},{"c":"lens","style":"thick","x":38,"z":1.5},{"c":"lens","style":"thick","x":38.46,"z":1.69},{"c":"lens","style":"thick","x":38.85,"z":1.44},{"c":"lens","style":"thick","x":38,"z":1.125},{"c":"lens","style":"thick","x":37.2,"z":0.81},{"c":"lens","style":"thick","x":36.5,"z":1.06},{"c":"lens","style":"thick","x":36.1,"z":1.31},
      {"c":"circle","style":"thick","x":33.2,"z":1.95},{"c":"circle","style":"thick","x":33.6,"z":2.0},{"c":"circle","style":"thick","x":34.1,"z":1.75},{"c":"circle","style":"thick","x":34.0,"z":1.6},{"c":"circle","style":"thick","x":33.6,"z":1.62},{"c":"circle","style":"thick","x":33.2,"z":1.95},
      {"c":"island","style":"thick","x":49.875,"z":2.44},{"c":"island","style":"thick","x":49.24,"z":2.81},{"c":"island","style":"thick","x":48.6,"z":3.19},{"c":"island","style":"thick","x":48.07,"z":3.0},{"c":"island","style":"thick","x":47.44,"z":2.5},{"c":"island","style":"thick","x":44.76,"z":2.5},{"c":"island","style":"thick","x":43.73,"z":2.44},{"c":"island","style":"thick","x":43.1,"z":2.375},{"c":"island","style":"thick","x":43.73,"z":1.69},{"c":"island","style":"thick","x":44.76,"z":1.625},{"c":"island","style":"thick","x":47.44,"z":1.75},{"c":"island","style":"thick","x":48.07,"z":1.81},{"c":"island","style":"thick","x":48.6,"z":2.06},{"c":"island","style":"thick","x":49.24,"z":2.25},{"c":"island","style":"thick","x":49.875,"z":2.375},
      {"c":"small","style":"thick","x":46.96,"z":1.03},{"c":"small","style":"thick","x":47.44,"z":1.16},{"c":"small","style":"thick","x":47.91,"z":1.19},{"c":"small","style":"thick","x":48.2,"z":1.14},{"c":"small","style":"thick","x":48.44,"z":0.94},{"c":"small","style":"thick","x":47.91,"z":0.83},{"c":"small","style":"thick","x":47.44,"z":0.875},{"c":"small","style":"thick","x":46.96,"z":1.03},
      {"c":"m9","style":"dashthin","x":0.125,"z":18.85},{"c":"m9","style":"dashthin","x":8.5,"z":18.81},{"c":"m9","style":"dashthin","x":15.5,"z":18.69},{"c":"m9","style":"dashthin","x":21,"z":18.69},{"c":"m9","style":"dashthin","x":25,"z":18.78},{"c":"m9","style":"dashthin","x":33,"z":18.79},{"c":"m9","style":"dashthin","x":39,"z":18.69},{"c":"m9","style":"dashthin","x":44.5,"z":18.67},{"c":"m9","style":"dashthin","x":49.875,"z":18.81},
      {"c":"m6a","style":"dashthick","x":0.125,"z":17.19},{"c":"m6a","style":"dashthick","x":5,"z":17.17},{"c":"m6a","style":"dashthick","x":7.5,"z":17.15},{"c":"m6a","style":"dashthick","x":13,"z":17.05},{"c":"m6a","style":"dashthick","x":15.6,"z":16.98},{"c":"m6a","style":"dashthick","x":17.3,"z":16.98},
      {"c":"m6b","style":"dashthick","x":20.75,"z":16.98},{"c":"m6b","style":"dashthick","x":25,"z":17.06},{"c":"m6b","style":"dashthick","x":28,"z":17.15},{"c":"m6b","style":"dashthick","x":33.5,"z":17.13},{"c":"m6b","style":"dashthick","x":39,"z":17.02},{"c":"m6b","style":"dashthick","x":46,"z":17.09},{"c":"m6b","style":"dashthick","x":49.875,"z":17.15},
      {"c":"m3a","style":"dashthin","x":0.125,"z":13.92},{"c":"m3a","style":"dashthin","x":2.25,"z":14.15},{"c":"m3a","style":"dashthin","x":4.9,"z":14.15},{"c":"m3a","style":"dashthin","x":7.5,"z":13.6},{"c":"m3a","style":"dashthin","x":10.1,"z":12.5},{"c":"m3a","style":"dashthin","x":12.5,"z":11.35},
      {"c":"m3b","style":"dashthin","x":20.9,"z":11.15},{"c":"m3b","style":"dashthin","x":24.8,"z":12.65},{"c":"m3b","style":"dashthin","x":28.2,"z":13.29},{"c":"m3b","style":"dashthin","x":30.6,"z":13.27},{"c":"m3b","style":"dashthin","x":32.5,"z":12.98},{"c":"m3b","style":"dashthin","x":34,"z":12.56},{"c":"m3b","style":"dashthin","x":36.7,"z":12.5},{"c":"m3b","style":"dashthin","x":38,"z":12.15},{"c":"m3b","style":"dashthin","x":40,"z":12.19},{"c":"m3b","style":"dashthin","x":41.6,"z":12.46},{"c":"m3b","style":"dashthin","x":42.4,"z":12.3},{"c":"m3b","style":"dashthin","x":44,"z":12.67},{"c":"m3b","style":"dashthin","x":45.9,"z":12.8},{"c":"m3b","style":"dashthin","x":48.2,"z":13.37},{"c":"m3b","style":"dashthin","x":49.875,"z":13.75},
      {"c":"base","style":"dashthin","x":8.05,"z":9.125},{"c":"base","style":"dashthin","x":10.15,"z":9.125},{"c":"base","style":"dashthin","x":10.67,"z":9.2},{"c":"base","style":"dashthin","x":11.46,"z":9.23},{"c":"base","style":"dashthin","x":12.77,"z":9.06},{"c":"base","style":"dashthin","x":14.6,"z":9.06},{"c":"base","style":"dashthin","x":16.7,"z":9.1},{"c":"base","style":"dashthin","x":19.6,"z":9.1},{"c":"base","style":"dashthin","x":22.2,"z":9.0},{"c":"base","style":"dashthin","x":23.0,"z":9.48},{"c":"base","style":"dashthin","x":23.5,"z":9.79},{"c":"base","style":"dashthin","x":24.06,"z":10.0},
      {"c":"r1","style":"dashthin","x":19.86,"z":10.42},{"c":"r1","style":"dashthin","x":20.38,"z":10.63},{"c":"r1","style":"dashthin","x":21.04,"z":10.83},{"c":"r1","style":"dashthin","x":21.56,"z":10.56},{"c":"r1","style":"dashthin","x":22.48,"z":10.63},{"c":"r1","style":"dashthin","x":23.53,"z":10.63},
      {"c":"r2","style":"dashthin","x":24.58,"z":10.42},{"c":"r2","style":"dashthin","x":24.71,"z":10.69},
      {"c":"r3","style":"dashthin","x":25.1,"z":10.63},{"c":"r3","style":"dashthin","x":25.63,"z":10.69},
      {"c":"r4","style":"dashthin","x":23.66,"z":10.21},{"c":"r4","style":"dashthin","x":24.2,"z":10.27},
      {"c":"r5","style":"dashthin","x":17.36,"z":10.52},{"c":"r5","style":"dashthin","x":17.76,"z":10.73},{"c":"r5","style":"dashthin","x":18.28,"z":10.77},
      {"c":"r6","style":"dashthin","x":18.15,"z":10.4},{"c":"r6","style":"dashthin","x":18.15,"z":10.2},
      {"c":"s1","style":"dashthin","x":10.67,"z":11.46},{"c":"s1","style":"dashthin","x":10.94,"z":11.19},
      {"c":"s2","style":"dashthin","x":10.94,"z":11.5},{"c":"s2","style":"dashthin","x":11.33,"z":11.25},
      {"c":"s3","style":"dashthin","x":12.25,"z":11.46},{"c":"s3","style":"dashthin","x":12.64,"z":11.15},
      {"c":"s4","style":"dashthin","x":12.77,"z":11.25},{"c":"s4","style":"dashthin","x":13.3,"z":11.15},
      {"c":"s5","style":"dashthin","x":9.1,"z":10.52},{"c":"s5","style":"dashthin","x":9.28,"z":10.69},
      {"c":"s6","style":"dashthin","x":9.49,"z":10.21},{"c":"s6","style":"dashthin","x":9.75,"z":10.56},
      {"c":"s7","style":"dashthin","x":10.28,"z":10.1},{"c":"s7","style":"dashthin","x":10.67,"z":10.48},
      {"c":"s8","style":"dashthin","x":10.67,"z":10.1},{"c":"s8","style":"dashthin","x":11.07,"z":10.63},
      {"c":"s9","style":"dashthin","x":10.8,"z":10.94},{"c":"s9","style":"dashthin","x":11.2,"z":10.0},
      {"c":"s10","style":"dashthin","x":11.46,"z":10.63},{"c":"s10","style":"dashthin","x":11.72,"z":10.1},
      {"c":"s11","style":"dashthin","x":12.12,"z":10.83},{"c":"s11","style":"dashthin","x":12.25,"z":10.31},
      {"c":"s12","style":"dashthin","x":12.64,"z":10.31},{"c":"s12","style":"dashthin","x":13.17,"z":10.73},{"c":"s12","style":"dashthin","x":13.5,"z":10.69},
      {"c":"s13","style":"dashthin","x":10.0,"z":10.0},{"c":"s13","style":"dashthin","x":10.28,"z":9.79},
      {"c":"s14","style":"dashthin","x":10.67,"z":9.58},{"c":"s14","style":"dashthin","x":10.8,"z":9.27}
    ],
    "labels": [
      {"x":19.0,"z":17.0,"label":"6.00"},
      {"x":17.6,"z":8.56,"label":"0.00"},
      {"x":17.6,"z":7.5,"label":"6.00"},
      {"x":17.6,"z":6.375,"label":"12.0"},
      {"x":17.6,"z":5.19,"label":"18.0"},
      {"x":14.37,"z":4.0,"label":"24.0"},
      {"x":38.46,"z":4.0,"label":"24.0"},
      {"x":40.27,"z":0.69,"label":"24.0"}
    ],
    "units": [
      {"x":-3.02,"z":-1.56,"label":"(×1000 m)"},
      {"x":47.13,"z":-2.25,"label":"(×1000 m)"}
    ],
    "xTicks": [
      {"kind":"major","x":4,"z":0.125,"z1":0.75},{"kind":"major","x":8,"z":0.125,"z1":0.75},{"kind":"major","x":12,"z":0.125,"z1":0.75},{"kind":"major","x":16,"z":0.125,"z1":0.75},{"kind":"major","x":20,"z":0.125,"z1":0.75},{"kind":"major","x":24,"z":0.125,"z1":0.75},{"kind":"major","x":28,"z":0.125,"z1":0.75},{"kind":"major","x":32,"z":0.125,"z1":0.75},{"kind":"major","x":36,"z":0.125,"z1":0.75},{"kind":"major","x":40,"z":0.125,"z1":0.75},{"kind":"major","x":44,"z":0.125,"z1":0.75},{"kind":"major","x":48,"z":0.125,"z1":0.75},
      {"kind":"major","x":4,"z":19.94,"z1":19.315},{"kind":"major","x":8,"z":19.94,"z1":19.315},{"kind":"major","x":12,"z":19.94,"z1":19.315},{"kind":"major","x":16,"z":19.94,"z1":19.315},{"kind":"major","x":20,"z":19.94,"z1":19.315},{"kind":"major","x":24,"z":19.94,"z1":19.315},{"kind":"major","x":28,"z":19.94,"z1":19.315},{"kind":"major","x":32,"z":19.94,"z1":19.315},{"kind":"major","x":36,"z":19.94,"z1":19.315},{"kind":"major","x":40,"z":19.94,"z1":19.315},{"kind":"major","x":44,"z":19.94,"z1":19.315},{"kind":"major","x":48,"z":19.94,"z1":19.315},
      {"kind":"minor","x":2,"z":0.125,"z1":0.44},{"kind":"minor","x":6,"z":0.125,"z1":0.44},{"kind":"minor","x":10,"z":0.125,"z1":0.44},{"kind":"minor","x":14,"z":0.125,"z1":0.44},{"kind":"minor","x":18,"z":0.125,"z1":0.44},{"kind":"minor","x":22,"z":0.125,"z1":0.44},{"kind":"minor","x":26,"z":0.125,"z1":0.44},{"kind":"minor","x":30,"z":0.125,"z1":0.44},{"kind":"minor","x":34,"z":0.125,"z1":0.44},{"kind":"minor","x":38,"z":0.125,"z1":0.44},{"kind":"minor","x":42,"z":0.125,"z1":0.44},{"kind":"minor","x":46,"z":0.125,"z1":0.44},
      {"kind":"minor","x":2,"z":19.94,"z1":19.625},{"kind":"minor","x":6,"z":19.94,"z1":19.625},{"kind":"minor","x":10,"z":19.94,"z1":19.625},{"kind":"minor","x":14,"z":19.94,"z1":19.625},{"kind":"minor","x":18,"z":19.94,"z1":19.625},{"kind":"minor","x":22,"z":19.94,"z1":19.625},{"kind":"minor","x":26,"z":19.94,"z1":19.625},{"kind":"minor","x":30,"z":19.94,"z1":19.625},{"kind":"minor","x":34,"z":19.94,"z1":19.625},{"kind":"minor","x":38,"z":19.94,"z1":19.625},{"kind":"minor","x":42,"z":19.94,"z1":19.625},{"kind":"minor","x":46,"z":19.94,"z1":19.625}
    ],
    "yTicks": [
      {"kind":"major","z":5,"x":0.125,"x1":0.755},{"kind":"major","z":10,"x":0.125,"x1":0.755},{"kind":"major","z":15,"x":0.125,"x1":0.755},
      {"kind":"major","z":5,"x":49.875,"x1":49.245},{"kind":"major","z":10,"x":49.875,"x1":49.245},{"kind":"major","z":15,"x":49.875,"x1":49.245},
      {"kind":"minor","z":1,"x":0.125,"x1":0.52},{"kind":"minor","z":2,"x":0.125,"x1":0.52},{"kind":"minor","z":3,"x":0.125,"x1":0.52},{"kind":"minor","z":4,"x":0.125,"x1":0.52},{"kind":"minor","z":6,"x":0.125,"x1":0.52},{"kind":"minor","z":7,"x":0.125,"x1":0.52},{"kind":"minor","z":8,"x":0.125,"x1":0.52},{"kind":"minor","z":9,"x":0.125,"x1":0.52},{"kind":"minor","z":11,"x":0.125,"x1":0.52},{"kind":"minor","z":12,"x":0.125,"x1":0.52},{"kind":"minor","z":13,"x":0.125,"x1":0.52},{"kind":"minor","z":14,"x":0.125,"x1":0.52},{"kind":"minor","z":16,"x":0.125,"x1":0.52},{"kind":"minor","z":17,"x":0.125,"x1":0.52},{"kind":"minor","z":18,"x":0.125,"x1":0.52},{"kind":"minor","z":19,"x":0.125,"x1":0.52},
      {"kind":"minor","z":1,"x":49.875,"x1":49.48},{"kind":"minor","z":2,"x":49.875,"x1":49.48},{"kind":"minor","z":3,"x":49.875,"x1":49.48},{"kind":"minor","z":4,"x":49.875,"x1":49.48},{"kind":"minor","z":6,"x":49.875,"x1":49.48},{"kind":"minor","z":7,"x":49.875,"x1":49.48},{"kind":"minor","z":8,"x":49.875,"x1":49.48},{"kind":"minor","z":9,"x":49.875,"x1":49.48},{"kind":"minor","z":11,"x":49.875,"x1":49.48},{"kind":"minor","z":12,"x":49.875,"x1":49.48},{"kind":"minor","z":13,"x":49.875,"x1":49.48},{"kind":"minor","z":14,"x":49.875,"x1":49.48},{"kind":"minor","z":16,"x":49.875,"x1":49.48},{"kind":"minor","z":17,"x":49.875,"x1":49.48},{"kind":"minor","z":18,"x":49.875,"x1":49.48},{"kind":"minor","z":19,"x":49.875,"x1":49.48}
    ],
    "frame": [{"x":0.125,"x1":49.875,"z":0.125,"z1":19.94}],
    "colorbar": [
      {"level":-20,"lo":-20,"hi":-19},{"level":-19,"lo":-19,"hi":-18},{"level":-18,"lo":-18,"hi":-17},{"level":-17,"lo":-17,"hi":-16},{"level":-16,"lo":-16,"hi":-15},{"level":-15,"lo":-15,"hi":-14},{"level":-14,"lo":-14,"hi":-13},{"level":-13,"lo":-13,"hi":-12},{"level":-12,"lo":-12,"hi":-11},{"level":-11,"lo":-11,"hi":-10},{"level":-10,"lo":-10,"hi":-9},{"level":-9,"lo":-9,"hi":-8},{"level":-8,"lo":-8,"hi":-7},{"level":-7,"lo":-7,"hi":-6},{"level":-6,"lo":-6,"hi":-5},{"level":-5,"lo":-5,"hi":-4},{"level":-4,"lo":-4,"hi":-3},{"level":-3,"lo":-3,"hi":-2},{"level":-2,"lo":-2,"hi":-1},{"level":-1,"lo":-1,"hi":0},
      {"level":0,"lo":0,"hi":1},{"level":1,"lo":1,"hi":2},{"level":2,"lo":2,"hi":3},{"level":3,"lo":3,"hi":4},{"level":4,"lo":4,"hi":5},{"level":5,"lo":5,"hi":6},{"level":6,"lo":6,"hi":7},{"level":7,"lo":7,"hi":8},{"level":8,"lo":8,"hi":9},{"level":9,"lo":9,"hi":10},{"level":10,"lo":10,"hi":11},{"level":11,"lo":11,"hi":12},{"level":12,"lo":12,"hi":13},{"level":13,"lo":13,"hi":14},{"level":14,"lo":14,"hi":15},{"level":15,"lo":15,"hi":16},{"level":16,"lo":16,"hi":17},{"level":17,"lo":17,"hi":18},{"level":18,"lo":18,"hi":19},{"level":19,"lo":19,"hi":20},
      {"level":20,"lo":20,"hi":21},{"level":21,"lo":21,"hi":22},{"level":22,"lo":22,"hi":23},{"level":23,"lo":23,"hi":24},{"level":24,"lo":24,"hi":25},{"level":25,"lo":25,"hi":26},{"level":26,"lo":26,"hi":27},{"level":27,"lo":27,"hi":28},{"level":28,"lo":28,"hi":29},{"level":29,"lo":29,"hi":30},{"level":30,"lo":30,"hi":31},{"level":31,"lo":31,"hi":32},{"level":32,"lo":32,"hi":33},{"level":33,"lo":33,"hi":34},{"level":34,"lo":34,"hi":35},{"level":35,"lo":35,"hi":36},{"level":36,"lo":36,"hi":37},{"level":37,"lo":37,"hi":38},{"level":38,"lo":38,"hi":39},{"level":39,"lo":39,"hi":40}
    ]
  },
  "vconcat": [
    {
      "width": 632,
      "height": 317,
      "title": {"text": "disturbunce of potential temperature", "fontSize": 29, "anchor": "middle", "offset": 35},
      "encoding": {
        "x": {"field": "x", "type": "quantitative", "scale": {"domain": [0.125, 49.875], "nice": false, "zero": false},
          "axis": {"title": "X-coordinate", "titleFontSize": 24, "titlePadding": 34, "values": [4,8,12,16,20,24,28,32,36,40,44,48], "labelPadding": 7, "labelFlush": false}},
        "y": {"field": "z", "type": "quantitative", "stack": null, "scale": {"domain": [0.125, 19.94], "nice": false, "zero": false},
          "axis": {"title": "Z-coordinate", "titleFontSize": 24, "titlePadding": 8, "values": [5,10,15], "labelPadding": 13, "labelFlush": false}}
      },
      "layer": [
        {
          "data": {"name": "bands"},
          "mark": {"type": "area", "orient": "vertical"},
          "encoding": {
            "y2": {"datum": 19.94},
            "color": {"field": "level", "type": "ordinal", "legend": null, "scale": {
              "domain": [-20,-19,-18,-17,-16,-15,-14,-13,-12,-11,-10,-9,-8,-7,-6,-5,-4,-3,-2,-1,0,1,2,3,4,5,6,7,8,9,10,11,12,13,14,15,16,17,18,19,20,21,22,23,24,25,26,27,28,29,30,31,32,33,34,35,36,37,38,39],
              "range": ["#7800A0","#5C0098","#400090","#280090","#100090","#0000B0","#0000D0","#0000F0","#0014FF","#002CFF","#0044FF","#005CFF","#0074FF","#0088FF","#009CFF","#00B4FF","#00C8FF","#00D8FF","#00E6FF","#00F4FF","#00FFF0","#00FFDC","#00FFC8","#00FFB4","#00FFA0","#00FF8C","#00FF78","#00FF64","#00FF50","#00FF3C","#00FF28","#00FF14","#00FF00","#1CFF00","#38FF00","#54FF00","#70FF00","#8CFF00","#A8FF00","#C4FF00","#E0FF00","#F8FF00","#FFE400","#FFC800","#FFB400","#FFA000","#FF8C00","#FF7800","#FF6400","#FF5000","#FF3C00","#FF2800","#FF1400","#FF0000","#FF2020","#FF4040","#FF5858","#FF6868","#FF7878","#FF9090"]}}
          }
        },
        {
          "data": {"name": "patches"},
          "mark": {"type": "area", "orient": "vertical"},
          "encoding": {
            "y2": {"field": "z2"},
            "detail": {"field": "id"},
            "color": {"field": "level", "type": "ordinal", "legend": null}
          }
        },
        {
          "data": {"name": "contours"},
          "mark": {"type": "line", "color": "black", "strokeCap": "butt"},
          "encoding": {
            "detail": {"field": "c"},
            "order": {"value": null},
            "strokeWidth": {"field": "style", "type": "nominal", "legend": null, "scale": {"domain": ["thick","thin","dashthick","dashthin"], "range": [2.4,1.2,2.4,1]}},
            "strokeDash": {"field": "style", "type": "nominal", "legend": null, "scale": {"domain": ["thick","thin","dashthick","dashthin"], "range": [[1,0],[1,0],[9,5],[6,5]]}}
          }
        },
        {
          "data": {"name": "xTicks"},
          "mark": {"type": "rule", "color": "black"},
          "encoding": {
            "y2": {"field": "z1"},
            "strokeWidth": {"field": "kind", "type": "nominal", "legend": null, "scale": {"domain": ["major","minor"], "range": [2,1]}}
          }
        },
        {
          "data": {"name": "yTicks"},
          "mark": {"type": "rule", "color": "black"},
          "encoding": {
            "x2": {"field": "x1"},
            "strokeWidth": {"field": "kind", "type": "nominal", "legend": null}
          }
        },
        {
          "data": {"name": "frame"},
          "mark": {"type": "rect", "fill": null, "stroke": "black", "strokeWidth": 2},
          "encoding": {"x2": {"field": "x1"}, "y2": {"field": "z1"}}
        },
        {
          "data": {"name": "labels"},
          "mark": {"type": "text", "fontSize": 16, "color": "black", "baseline": "middle"},
          "encoding": {"text": {"field": "label"}}
        },
        {
          "data": {"name": "units"},
          "mark": {"type": "text", "fontSize": 18, "color": "black", "baseline": "middle"},
          "encoding": {"text": {"field": "label"}}
        }
      ]
    },
    {
      "width": 272,
      "height": 19,
      "title": {"text": "CONTOUR INTERVAL = 3.000E+00", "fontSize": 17, "anchor": "middle", "offset": 10},
      "data": {"name": "colorbar"},
      "mark": {"type": "rect", "stroke": "black", "strokeWidth": 2},
      "encoding": {
        "x": {"field": "lo", "type": "quantitative", "scale": {"domain": [-20, 40], "nice": false, "zero": false},
          "axis": {"title": null, "values": [-12,0,12,24,36], "labelPadding": 8, "labelFlush": false}},
        "x2": {"field": "hi"},
        "color": {"field": "level", "type": "ordinal", "legend": null, "scale": {
          "domain": [-20,-19,-18,-17,-16,-15,-14,-13,-12,-11,-10,-9,-8,-7,-6,-5,-4,-3,-2,-1,0,1,2,3,4,5,6,7,8,9,10,11,12,13,14,15,16,17,18,19,20,21,22,23,24,25,26,27,28,29,30,31,32,33,34,35,36,37,38,39],
          "range": ["#7800A0","#5C0098","#400090","#280090","#100090","#0000B0","#0000D0","#0000F0","#0014FF","#002CFF","#0044FF","#005CFF","#0074FF","#0088FF","#009CFF","#00B4FF","#00C8FF","#00D8FF","#00E6FF","#00F4FF","#00FFF0","#00FFDC","#00FFC8","#00FFB4","#00FFA0","#00FF8C","#00FF78","#00FF64","#00FF50","#00FF3C","#00FF28","#00FF14","#00FF00","#1CFF00","#38FF00","#54FF00","#70FF00","#8CFF00","#A8FF00","#C4FF00","#E0FF00","#F8FF00","#FFE400","#FFC800","#FFB400","#FFA000","#FF8C00","#FF7800","#FF6400","#FF5000","#FF3C00","#FF2800","#FF1400","#FF0000","#FF2020","#FF4040","#FF5858","#FF6868","#FF7878","#FF9090"]}}
      }
    }
  ]
}
